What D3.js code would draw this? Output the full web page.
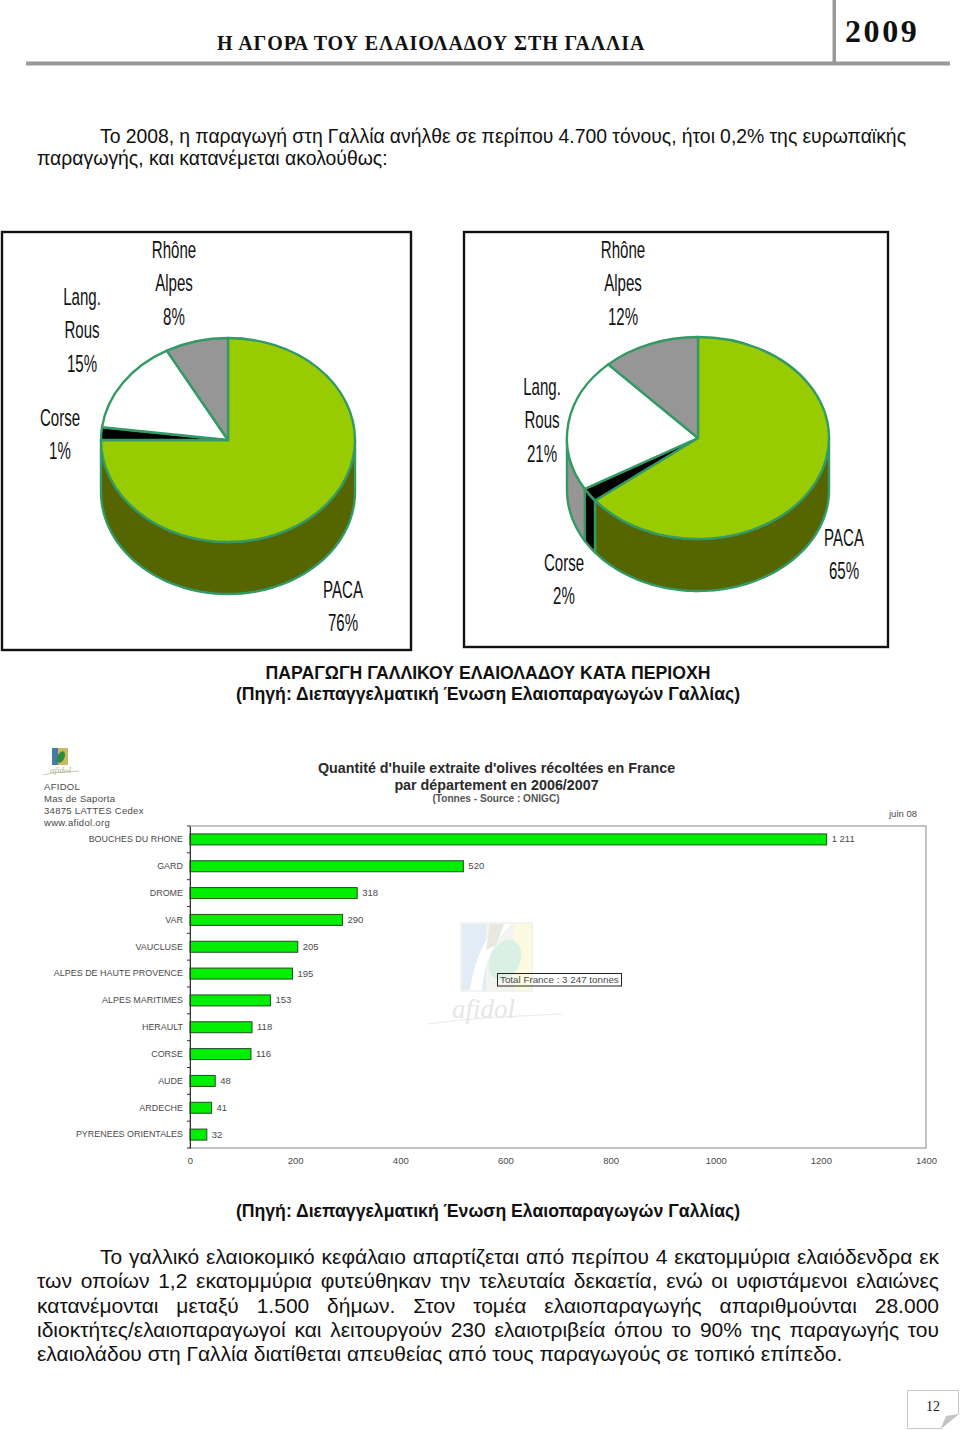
<!DOCTYPE html>
<html lang="el"><head><meta charset="utf-8">
<script src="https://cdn.jsdelivr.net/npm/d3@7/dist/d3.min.js"></script>
<style>
html,body{margin:0;padding:0;background:#fff}
svg{display:block}
text{font-family:"Liberation Sans",Arial,sans-serif}
</style></head><body>
<svg id="c" width="960" height="1430" viewBox="0 0 960 1430"></svg>
<script>
// ---- data ----
const pieRegions = ["PACA","Corse","Lang. Rous","Rhône Alpes"];
const pieShares2008 = [75,2,15,8];
const pieShares2006 = [64.4,2.2,21.4,12];
const pieLabels2008 = ["76%","1%","15%","8%"];
const pieLabels2006 = ["65%","2%","21%","12%"];
const pieTopColors = ["#99cc00","#000000","#ffffff","#969696"];
const pieSideColors = ["#556600","#000000","#969696","#6e6e6e"];

const departments = ["BOUCHES DU RHONE","GARD","DROME","VAR","VAUCLUSE","ALPES DE HAUTE PROVENCE","ALPES MARITIMES","HERAULT","CORSE","AUDE","ARDECHE","PYRENEES ORIENTALES"];
const tonnes = [1211,520,318,290,205,195,153,118,116,48,41,32];
const tonneLabels = ["1 211","520","318","290","205","195","153","118","116","48","41","32"];
const xTicks = [0,200,400,600,800,1000,1200,1400];

const headerTitle = "Η ΑΓΟΡΑ ΤΟΥ ΕΛΑΙΟΛΑΔΟΥ ΣΤΗ ΓΑΛΛΙΑ";
const headerYear = "2009";
const introLines = ["Το 2008, η παραγωγή στη Γαλλία ανήλθε σε περίπου 4.700 τόνους, ήτοι 0,2% της ευρωπαϊκής","παραγωγής, και κατανέμεται ακολούθως:"];
const captionTitle = "ΠΑΡΑΓΩΓΗ ΓΑΛΛΙΚΟΥ ΕΛΑΙΟΛΑΔΟΥ ΚΑΤΑ ΠΕΡΙΟΧΗ";
const captionSource = "(Πηγή: Διεπαγγελματική Ένωση Ελαιοπαραγωγών Γαλλίας)";
const closingLines = [
 "Το γαλλικό ελαιοκομικό κεφάλαιο απαρτίζεται από περίπου 4 εκατομμύρια ελαιόδενδρα εκ",
 "των οποίων 1,2 εκατομμύρια φυτεύθηκαν την τελευταία δεκαετία, ενώ οι υφιστάμενοι ελαιώνες",
 "κατανέμονται μεταξύ 1.500 δήμων. Στον τομέα ελαιοπαραγωγής απαριθμούνται 28.000",
 "ιδιοκτήτες/ελαιοπαραγωγοί και λειτουργούν 230 ελαιοτριβεία όπου το 90% της παραγωγής του",
 "ελαιολάδου στη Γαλλία διατίθεται απευθείας από τους παραγωγούς σε τοπικό επίπεδο."];
const chartTitleLines = ["Quantité d'huile extraite d'olives récoltées en France","par département en 2006/2007"];
const chartSubtitle = "(Tonnes - Source : ONIGC)";
const addressLines = ["AFIDOL","Mas de Saporta","34875 LATTES Cedex","www.afidol.org"];
const dateNote = "juin 08";
const totalNote = "Total France : 3 247 tonnes";
const pageNumber = "12";

// ---- page furniture ----
const svg = d3.select("#c");
const rule = "#999999";
svg.append("rect").attr("x",26).attr("y",61.5).attr("width",924).attr("height",4).attr("fill",rule);
svg.append("rect").attr("x",832.5).attr("y",0).attr("width",3.5).attr("height",63).attr("fill",rule);
svg.append("text").text(headerTitle).attr("x",217).attr("y",50).attr("font-size",20).attr("font-weight",700)
  .style("font-family","'Liberation Serif',serif").attr("fill","#111").attr("letter-spacing",0.9);
svg.append("text").text(headerYear).attr("x",845).attr("y",42).attr("font-size",32).attr("font-weight",700)
  .style("font-family","'Liberation Serif',serif").attr("fill","#111").attr("letter-spacing",2.6);

function bodyLine(str,x,y,right,size){
  const t = svg.append("text").text(str).attr("x",x).attr("y",y).attr("font-size",size).attr("fill","#111");
  if(right){
    const gaps = str.split(" ").length-1;
    const w = t.node().getComputedTextLength();
    t.style("word-spacing",((right-x-w)/gaps)+"px");
  }
  return t;
}
bodyLine(introLines[0],100,143,906,19.4);
bodyLine(introLines[1],37,165,null,19.4);

// ---- pies ----
function drawPie(cfg){
  const {frame,cx,cy,rx,ry,depth,shares,labels,labelPos} = cfg;
  const g = svg.append("g");
  g.append("rect").attr("x",frame[0]).attr("y",frame[1]).attr("width",frame[2]-frame[0]).attr("height",frame[3]-frame[1])
    .attr("fill","#fff").attr("stroke","#111").attr("stroke-width",2.4);
  const arcs = d3.pie().sort(null)(shares);
  const sx = d3.scaleLinear().domain([-1,1]).range([cx-rx,cx+rx]);
  const sy = d3.scaleLinear().domain([-1,1]).range([cy-ry,cy+ry]);
  const lo = Math.PI/2, hi = Math.PI*1.5;
  const line = d3.line().x(d=>d[0]).y(d=>d[1]);
  arcs.forEach((a,i)=>{
    const s = Math.max(a.startAngle,lo), e = Math.min(a.endAngle,hi);
    if(e<=s) return;
    const as = d3.range(0,61).map(k=>s+(e-s)*k/60);
    const top = as.map(t=>[sx(Math.sin(t)),sy(-Math.cos(t))]);
    const bot = as.slice().reverse().map(t=>[sx(Math.sin(t)),sy(-Math.cos(t))+depth]);
    g.append("path").attr("d",line(top.concat(bot))+"Z").attr("fill",pieSideColors[i])
      .attr("stroke","#339966").attr("stroke-width",2.4).attr("stroke-linejoin","round");
  });
  const arc = d3.arc().innerRadius(0).outerRadius(1);
  g.append("g").attr("transform",`translate(${cx},${cy}) scale(${rx},${ry})`)
    .selectAll("path").data(arcs).join("path").attr("d",arc)
    .attr("fill",(d,i)=>pieTopColors[i]).attr("stroke","#339966").attr("stroke-width",2.4)
    .attr("vector-effect","non-scaling-stroke").attr("stroke-linejoin","round");
  pieRegions.forEach((name,i)=>{
    const lines = (i===1||i===0) ? [name,labels[i]] : name.split(" ").concat(labels[i]);
    const [lx,ly] = labelPos[i];
    lines.forEach((l,k)=>{
      g.append("text").text(l).attr("text-anchor","middle").attr("font-size",23).attr("fill","#111")
        .attr("transform",`translate(${lx},${ly+k*33.8}) scale(0.655,1)`);
    });
  });
}
drawPie({frame:[2,232,411,650],cx:228,cy:440,rx:127,ry:102,depth:52,shares:pieShares2008,labels:pieLabels2008,
  labelPos:[[343,597.5],[60,425.5],[82,304.5],[174,257.5]]});
drawPie({frame:[464,232,888,647],cx:698,cy:438,rx:131,ry:101,depth:52,shares:pieShares2006,labels:pieLabels2006,
  labelPos:[[844,545.5],[564,570.5],[542,394.5],[623,257.5]]});

function caption(str,y){
  svg.append("text").text(str).attr("x",488).attr("y",y).attr("text-anchor","middle")
    .attr("font-size",17.65).attr("font-weight",700).attr("fill","#111");
}
caption(captionTitle,679);
caption(captionSource,700);
caption(captionSource,1217);

// ---- bar chart ----
const x = d3.scaleLinear().domain([0,1400]).range([190,926]);
const y = d3.scaleBand().domain(departments).range([826,1148]);
const barH = 11;
const chart = svg.append("g");

const wm = chart.append("g").attr("opacity",0.42);
wm.append("rect").attr("x",460).attr("y",922).attr("width",73).attr("height",70).attr("fill","#e3e3e0");
wm.append("rect").attr("x",462).attr("y",924).attr("width",24).attr("height",66).attr("fill","#bcd4ec");
wm.append("rect").attr("x",514).attr("y",924).attr("width",17).attr("height",66).attr("fill","#fbf2b8");
wm.append("path").attr("d","M470 990C474 960 484 938 500 924L512 924C494 940 484 962 482 990Z").attr("fill","#fff");
wm.append("path").attr("d","M490 924L504 924L496 945L486 950Z").attr("fill","#c9c9b8");
wm.append("ellipse").attr("cx",505).attr("cy",960).attr("rx",15).attr("ry",21).attr("transform","rotate(25 505 960)").attr("fill","#a8dcc0");
wm.append("path").attr("d","M428 1024C470 1018 520 1016 562 1014").attr("stroke","#cfcfcf").attr("fill","none");
wm.append("text").text("afidol").attr("x",452).attr("y",1018).attr("font-size",27).attr("font-style","italic")
  .style("font-family","'Liberation Serif',serif").attr("fill","#c4c4c4");

chart.append("rect").attr("x",190).attr("y",826).attr("width",736).attr("height",322)
  .attr("fill","none").attr("stroke","#aaaaaa").attr("stroke-width",1.4);

const labelFill = "#4a4a4a";
chart.selectAll("rect.bar").data(departments).join("rect").attr("class","bar")
  .attr("x",x(0)).attr("y",d=>y(d)+y.bandwidth()/2-barH/2)
  .attr("width",(d,i)=>x(tonnes[i])-x(0)).attr("height",barH)
  .attr("fill","#00ee00").attr("stroke","#1f4f1f").attr("stroke-width",1);
chart.selectAll("text.val").data(departments).join("text").attr("class","val")
  .attr("x",(d,i)=>x(tonnes[i])+5).attr("y",d=>y(d)+y.bandwidth()/2+3)
  .attr("font-size",9.5).attr("fill",labelFill).text((d,i)=>tonneLabels[i]);

const yAxis = d3.axisLeft(y).tickSize(0).tickPadding(7);
const yg = chart.append("g").attr("transform","translate(190,0)").call(yAxis);
yg.select(".domain").attr("stroke","#333");
yg.selectAll("text").attr("font-size",8.95).attr("fill",labelFill).style("font-family",'"Liberation Sans",Arial,sans-serif');
chart.selectAll("line.sep").data(d3.range(0,13)).join("line").attr("class","sep")
  .attr("x1",187).attr("x2",190)
  .attr("y1",i=>826+i*y.step()).attr("y2",i=>826+i*y.step()).attr("stroke","#333");
const xAxis = d3.axisBottom(x).tickValues(xTicks).tickSize(0).tickPadding(9).tickFormat(d3.format("d"));
const xg = chart.append("g").attr("transform","translate(0,1148)").call(xAxis);
xg.select(".domain").remove();
xg.selectAll("text").attr("font-size",9.5).attr("fill",labelFill).style("font-family",'"Liberation Sans",Arial,sans-serif');

chartTitleLines.forEach((t,i)=>chart.append("text").text(t).attr("x",496.5).attr("y",772.5+i*17)
  .attr("text-anchor","middle").attr("font-size",14.3).attr("font-weight",700).attr("fill","#2a2a2a"));
chart.append("text").text(chartSubtitle).attr("x",496).attr("y",802).attr("text-anchor","middle")
  .attr("font-size",10.1).attr("font-weight",700).attr("fill","#555");
addressLines.forEach((t,i)=>chart.append("text").text(t).attr("x",44).attr("y",789.5+i*12)
  .attr("font-size",9.5).attr("letter-spacing",0.3).attr("fill",labelFill));
chart.append("text").text(dateNote).attr("x",889).attr("y",817).attr("font-size",9.5).attr("fill",labelFill);

const logo = chart.append("g");
logo.append("rect").attr("x",52).attr("y",748).attr("width",16).attr("height",17).attr("fill","#c8b860");
logo.append("rect").attr("x",52).attr("y",748).attr("width",6).attr("height",17).attr("fill","#4a78a8");
logo.append("ellipse").attr("cx",61).attr("cy",757).attr("rx",3.5).attr("ry",6).attr("transform","rotate(25 61 757)").attr("fill","#2e8b3a");
logo.append("path").attr("d","M43 775C55 772 65 772 79 771").attr("stroke","#c9c9b0").attr("fill","none");
logo.append("text").text("afidol").attr("x",50).attr("y",773).attr("font-size",9).attr("font-style","italic")
  .style("font-family","'Liberation Serif',serif").attr("fill","#b0b090");

chart.append("rect").attr("x",497.5).attr("y",973.5).attr("width",124).attr("height",12.5)
  .attr("fill","none").attr("stroke","#222");
chart.append("text").text(totalNote).attr("x",500).attr("y",983).attr("font-size",9.8).attr("fill",labelFill);

[1264,1288,1313,1337,1361].forEach((yy,i)=>{
  bodyLine(closingLines[i], i===0?100:37, yy, i===4?null:939, 21);
});

const tab = svg.append("g");
tab.append("path").attr("d","M907.5 1390.5H958.5V1414L941 1428.5H907.5Z").attr("fill","#fff").attr("stroke","#c8c8c8");
tab.append("path").attr("d","M958.5 1414L941 1428.5C943 1422 945 1419 946 1416Z").attr("fill","#c4c4c4");
tab.append("text").text(pageNumber).attr("x",933).attr("y",1411).attr("text-anchor","middle").attr("font-size",14)
  .style("font-family","'Liberation Serif',serif").attr("fill","#222");
</script>
</body></html>
